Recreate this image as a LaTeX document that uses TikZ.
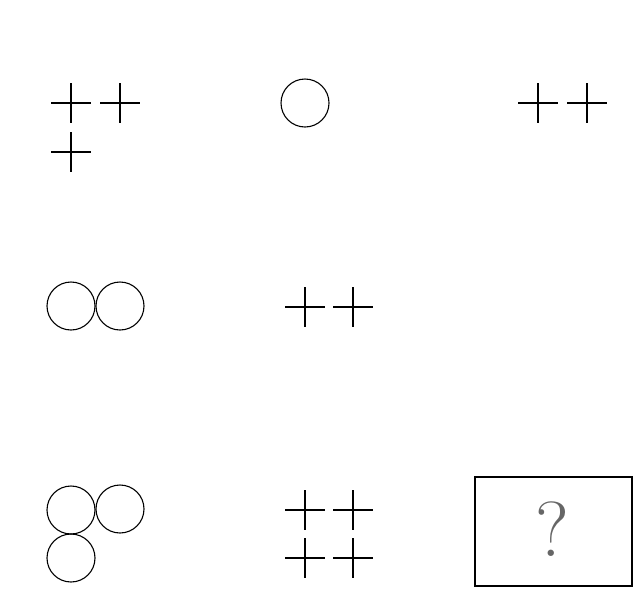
\documentclass[tikz,border=0pt]{standalone}
\usepackage{xcolor}
\begin{document}
\begin{tikzpicture}[x=1pt,y=-1pt,
  plusmark/.pic={\draw[line width=1.4pt] (-20,0) -- (20,0) (0,-20) -- (0,20);},
  ring/.style={draw, line width=1.1pt, circle, minimum size=48pt, inner sep=0pt},
  answerbox/.style={draw, line width=2.4pt, minimum width=157pt, minimum height=109pt, inner sep=0pt}]
\useasboundingbox (0,0) rectangle (639,603);
% row 1
\pic at (71,103) {plusmark};
\pic at (120,103) {plusmark};
\pic at (71,152) {plusmark};
\node[ring] (c1) at (305,103) {};
\pic at (538,103) {plusmark};
\pic at (587,103) {plusmark};
% row 2
\node[ring] (c2a) at (71,306) {};
\node[ring] (c2b) at (120,306) {};
\pic at (305,307) {plusmark};
\pic at (353,307) {plusmark};
% row 3
\node[ring] (c3a) at (71,510) {};
\node[ring] (c3b) at (120,509) {};
\node[ring] (c3c) at (71,558) {};
\pic at (305,510) {plusmark};
\pic at (353,510) {plusmark};
\pic at (305,558) {plusmark};
\pic at (353,558) {plusmark};
\node[answerbox] (q) at (553.5,531.5) {};
\node[text=black!60, font=\fontsize{78}{78}\selectfont] (qm) at (552,529) {?};
\end{tikzpicture}
\end{document}
